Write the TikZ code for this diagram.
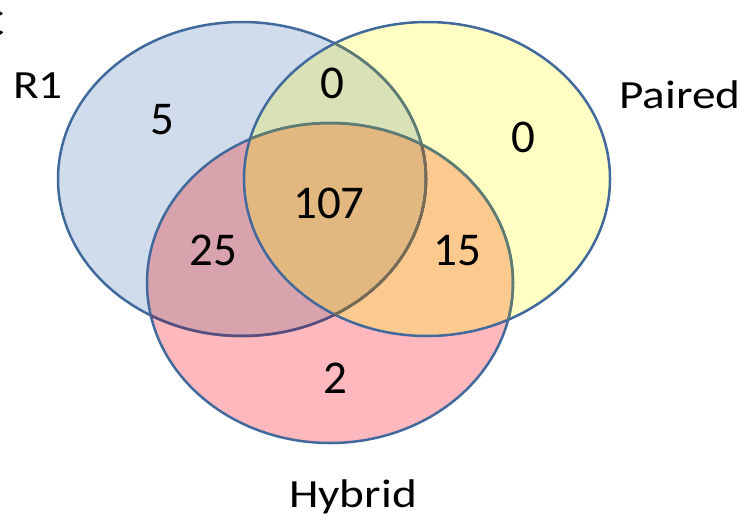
\documentclass[tikz,border=0pt]{standalone}
\usepackage{fontspec}
\setmainfont{Carlito}
\newfontfamily\labfont{Carlito}[FakeStretch=1.18]
\definecolor{cBlue}{HTML}{D0DCEC}
\definecolor{cYel}{HTML}{FFFFC4}
\definecolor{cPink}{HTML}{FFB9BE}
\definecolor{cBY}{HTML}{D8E2B6}
\definecolor{cBP}{HTML}{D9A3AE}
\definecolor{cYP}{HTML}{FCC98E}
\definecolor{cBYP}{HTML}{E3B880}
\definecolor{cLine}{HTML}{41699C}
\definecolor{cLineG}{HTML}{5E7C70}
\definecolor{cLineBr}{HTML}{7A6A52}
\definecolor{cLineP}{HTML}{5A4C7C}
\tikzset{
  num/.style={anchor=base,inner sep=0pt,font=\fontsize{47}{47}\selectfont},
  lab/.style={anchor=base,inner sep=0pt,font=\labfont\fontsize{40}{40}\selectfont},
  edge/.style={line width=2.5pt}
}
\def\Bell{(242,179) ellipse [x radius=184,y radius=157]}
\def\Yell{(427,179) ellipse [x radius=183,y radius=157]}
\def\Pell{(330,283) ellipse [x radius=183,y radius=160]}
\begin{document}
\begin{tikzpicture}[x=1pt,y=-1pt]
\useasboundingbox (0,0) rectangle (743,519);
% base fills
\fill[cBlue] \Bell;
\fill[cYel] \Yell;
\fill[cPink] \Pell;
\begin{scope}\clip \Bell; \fill[cBY] \Yell; \fill[cBP] \Pell; \end{scope}
\begin{scope}\clip \Yell; \fill[cYP] \Pell; \end{scope}
\begin{scope}\clip \Bell; \clip \Yell; \fill[cBYP] \Pell; \end{scope}
% outlines
\draw[edge,cLine] \Bell;
\draw[edge,cLine] \Pell;
\draw[edge,cLine] \Yell;
\begin{scope}\clip \Pell; \draw[edge,cLineP] \Bell; \end{scope}
\begin{scope}\clip \Yell; \draw[edge,cLineG] \Bell; \draw[edge,cLineG] \Pell; \end{scope}
\begin{scope}\clip \Yell; \clip \Pell; \draw[edge,cLineBr] \Bell; \end{scope}
% numbers
\node[num] (n5) at (162,134) {5};
\node[num] (n0a) at (332,98) {0};
\node[num] (n0b) at (523,152) {0};
\node[num] (n107) at (329,218) {107};
\node[num] (n25) at (213,265) {25};
\node[num] (n15) at (457,265) {15};
\node[num] (n2) at (335,393) {2};
% labels
\node[lab] (r1) at (38,98) {R1};
\node[lab] (paired) at (680,108) {Paired};
\node[lab] (hybrid) at (353,507) {Hybrid};
\node[lab,anchor=base east] (cfrag) at (5,37) {C};
\end{tikzpicture}
\end{document}
